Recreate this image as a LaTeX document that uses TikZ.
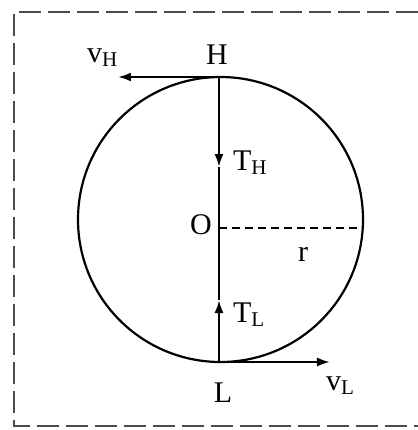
\documentclass[tikz,border=0pt]{standalone}
\usepackage{fontspec}
\setmainfont{Liberation Serif}
\usetikzlibrary{arrows.meta}

\begin{document}
\begin{tikzpicture}[x=0.5pt,y=-0.5pt,line width=1.1pt,
  every node/.style={font=\fontsize{15}{17}\selectfont,inner sep=0pt},
  >={Latex[length=6.5pt,width=4.5pt]}]
\useasboundingbox (0,0) rectangle (418,430);
% frame
\draw[black!70,line width=1pt,dash pattern=on 11pt off 3.5pt] (418,12) -- (14,12) -- (14,426) -- (418,426);
% circle and rope
\coordinate (O) at (220.5,219.5);
\draw (O) circle[radius=142.5];
\coordinate (H) at (219,77);
\coordinate (L) at (219,362);
\coordinate (tH) at (219,167);
\coordinate (tL) at (219,300);
\coordinate (rO) at (219,228);
\coordinate (rE) at (362.5,228);
\coordinate (vH) at (118,77);
\coordinate (vL) at (330,362);
\draw[->] (H) -- (tH);
\draw[->] (L) -- (tL);
\draw (tH) -- (tL);
\draw[->] (H) -- (vH);
\draw[->] (L) -- (vL);
\draw[dashed,dash pattern=on 4pt off 2.5pt] (rO) -- (rE);
% labels
\node[anchor=base] (lH) at (217,64) {H};
\node[anchor=base] (lL) at (223,402) {L};
\node[anchor=base east] (lO) at (213,234) {O};
\node[anchor=base west] (lr) at (297,261) {r};
\node[anchor=base west] (lvH) at (86,62) {v\textsubscript{H}};
\node[anchor=base west] (lvL) at (325,390) {v\textsubscript{L}};
\node[anchor=base west] (lTH) at (232,170) {T\textsubscript{H}};
\node[anchor=base west] (lTL) at (232,322) {T\textsubscript{L}};
\end{tikzpicture}
\end{document}
